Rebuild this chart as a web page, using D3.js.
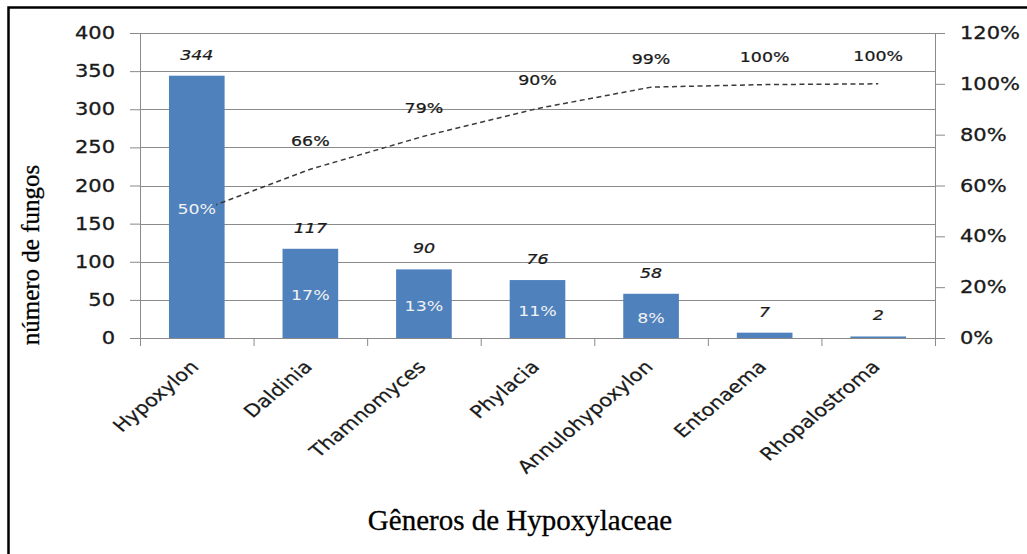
<!DOCTYPE html>
<html>
<head>
<meta charset="utf-8">
<script src="https://cdn.jsdelivr.net/npm/d3@7/dist/d3.min.js"></script>
<style>
  body { margin: 0; background: #fff; }
  svg { display: block; }
  .sans { font-family: "DejaVu Sans", Verdana, sans-serif; }
  .serif { font-family: "Liberation Serif", "Times New Roman", serif; }
</style>
</head>
<body>
<svg width="1027" height="554"></svg>
<script>
// data
const generos = ["Hypoxylon", "Daldinia", "Thamnomyces", "Phylacia", "Annulohypoxylon", "Entonaema", "Rhopalostroma"];
const numeroFungos = [344, 117, 90, 76, 58, 7, 2];
const pctGenero = ["50%", "17%", "13%", "11%", "8%", "", ""];
const pctAcumulado = [0.496, 0.664, 0.794, 0.903, 0.987, 0.997, 1.0];
const pctAcumuladoLabel = ["", "66%", "79%", "90%", "99%", "100%", "100%"];
const ticksEsq = [0, 50, 100, 150, 200, 250, 300, 350, 400];
const ticksDir = [0, 0.2, 0.4, 0.6, 0.8, 1.0, 1.2];

const SX = 1.2; // the sans text in the reference is stretched horizontally
const gray = "#8a8a8a";
const ink = "#1a1a1a";
const barColor = "#4F81BD";

const svg = d3.select("svg");
const margin = {top: 33, right: 92, bottom: 216, left: 140};
const width = +svg.attr("width") - margin.left - margin.right;
const height = +svg.attr("height") - margin.top - margin.bottom;

// outer frame (only left and top edges show)
svg.append("path")
    .attr("d", "M8.5,554V7.5H1027")
    .attr("fill", "none")
    .attr("stroke", "#000")
    .attr("stroke-width", 2.5);

const g = svg.append("g").attr("transform", "translate(" + margin.left + "," + margin.top + ")");

const x = d3.scaleBand().domain(generos).range([0, width]).paddingInner(0.51).paddingOuter(0.255);
const xEdge = d3.scaleLinear().domain([0, generos.length]).range([0, width]);
const y = d3.scaleLinear().domain([0, 400]).range([height, 0]);
const y2 = d3.scaleLinear().domain([0, 1.2]).range([height, 0]);
const cx = d => x(d) + x.bandwidth() / 2;

// gridlines
g.append("g").selectAll("line")
  .data(ticksEsq)
  .join("line")
    .attr("x1", 0).attr("x2", width)
    .attr("y1", d => Math.round(y(d)) + 0.5).attr("y2", d => Math.round(y(d)) + 0.5)
    .attr("stroke", gray).attr("stroke-width", 1);

// axes
function styleAxis(sel) {
  sel.selectAll(".domain").attr("stroke", gray);
  sel.selectAll(".tick line").attr("stroke", gray);
  sel.selectAll("text").attr("fill", ink).attr("class", "sans")
      .attr("stroke", ink).attr("stroke-width", 0.3);
}

const axisLeft = g.append("g")
    .call(d3.axisLeft(y).tickValues(ticksEsq).tickSize(10).tickSizeOuter(0))
    .call(styleAxis);
axisLeft.selectAll("text")
    .attr("font-size", 17.5)
    .attr("x", -25 / SX)
    .attr("transform", "scale(" + SX + ",1)");

const axisRight = g.append("g")
    .attr("transform", "translate(" + width + ",0)")
    .call(d3.axisRight(y2).tickValues(ticksDir).tickFormat(d3.format(".0%")).tickSize(10).tickSizeOuter(0))
    .call(styleAxis);
axisRight.selectAll("text")
    .attr("font-size", 17.5)
    .attr("x", 25 / SX)
    .attr("transform", "scale(" + SX + ",1)");

g.append("g")
    .attr("transform", "translate(0," + height + ")")
    .call(d3.axisBottom(xEdge).ticks(generos.length).tickSize(8).tickSizeOuter(8).tickFormat(""))
    .call(styleAxis);

// category labels
g.append("g").selectAll("text")
  .data(generos)
  .join("text")
    .attr("class", "sans")
    .attr("font-size", 17.5)
    .attr("fill", ink)
    .attr("stroke", ink).attr("stroke-width", 0.25)
    .attr("text-anchor", "end")
    .attr("transform", d => "translate(" + (cx(d) + 3) + "," + (height + 30) + ") scale(" + SX + ",1) rotate(-45)")
    .text(d => d);

// bars
g.append("g").selectAll("rect")
  .data(generos)
  .join("rect")
    .attr("x", d => x(d))
    .attr("y", (d, i) => y(numeroFungos[i]))
    .attr("width", x.bandwidth())
    .attr("height", (d, i) => height - y(numeroFungos[i]))
    .attr("fill", barColor);

// count labels
g.append("g").selectAll("text")
  .data(generos)
  .join("text")
    .attr("class", "sans")
    .attr("font-size", 14.5)
    .attr("font-style", "italic")
    .attr("fill", ink)
    .attr("stroke", ink).attr("stroke-width", 0.25)
    .attr("text-anchor", "middle")
    .attr("transform", (d, i) => "translate(" + cx(d) + "," + (y(numeroFungos[i]) - 16) + ") scale(" + SX + ",1)")
    .text((d, i) => numeroFungos[i]);

// cumulative line
const line = d3.line()
    .x(d => cx(d))
    .y((d, i) => y2(pctAcumulado[i]));

g.append("path")
    .datum(generos)
    .attr("fill", "none")
    .attr("stroke", "#3a3a3a")
    .attr("stroke-width", 1.5)
    .attr("stroke-dasharray", "5,3.5")
    .attr("d", line);

// cumulative labels
g.append("g").selectAll("text")
  .data(generos)
  .join("text")
    .attr("class", "sans")
    .attr("font-size", 14.5)
    .attr("fill", ink)
    .attr("stroke", ink).attr("stroke-width", 0.25)
    .attr("text-anchor", "middle")
    .attr("transform", (d, i) => "translate(" + cx(d) + "," + (y2(pctAcumulado[i]) - 23) + ") scale(" + SX + ",1)")
    .text((d, i) => pctAcumuladoLabel[i]);

// share labels inside bars (background hides the line under them)
const inner = g.append("g").selectAll("g")
  .data(generos.filter((d, i) => pctGenero[i] !== ""))
  .join("g")
    .attr("transform", d => {
      const i = generos.indexOf(d);
      const mid = (y(numeroFungos[i]) + height) / 2;
      return "translate(" + cx(d) + "," + (mid + 7) + ") scale(" + SX + ",1)";
    });
inner.append("text")
    .attr("class", "sans")
    .attr("font-size", 14.5)
    .attr("fill", "#f2f2f2")
    .attr("text-anchor", "middle")
    .text(d => pctGenero[generos.indexOf(d)]);
inner.each(function() {
  const b = d3.select(this).select("text").node().getBBox();
  d3.select(this).insert("rect", "text")
      .attr("x", b.x).attr("y", b.y + 2)
      .attr("width", b.width).attr("height", b.height - 3)
      .attr("fill", barColor);
});

// axis titles
svg.append("text")
    .attr("class", "serif")
    .attr("font-size", 25)
    .attr("fill", "#000")
    .attr("stroke", "#000").attr("stroke-width", 0.3)
    .attr("text-anchor", "middle")
    .attr("transform", "translate(39,255) rotate(-90)")
    .text("número de fungos");

svg.append("text")
    .attr("class", "serif")
    .attr("font-size", 29)
    .attr("fill", "#000")
    .attr("stroke", "#000").attr("stroke-width", 0.3)
    .attr("text-anchor", "middle")
    .attr("x", 520)
    .attr("y", 530)
    .text("Gêneros de Hypoxylaceae");
</script>
</body>
</html>
